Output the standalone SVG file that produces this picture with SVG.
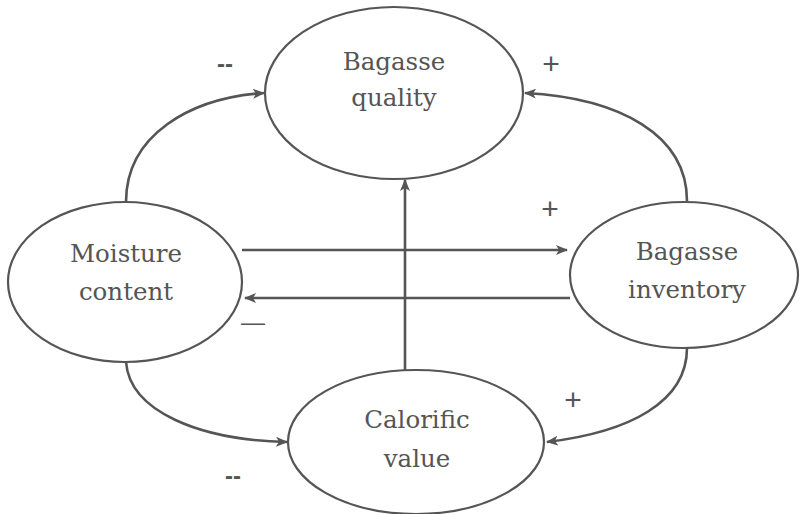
<svg xmlns="http://www.w3.org/2000/svg" width="800" height="514" viewBox="0 0 800 514">
<style>
.node ellipse{fill:#fff;stroke:#555;stroke-width:2.2}
.node text,.lbl{font-family:"DejaVu Serif","Liberation Serif",serif;font-size:24.5px;fill:#555;text-anchor:middle}
.lbl{font-family:"Liberation Sans",sans-serif;font-size:24px}
.plus{font-size:30px}
.conn path{fill:none;stroke:#555;stroke-width:2.6}
</style>
<defs>
<marker id="ah" viewBox="0 0 12 10" refX="11" refY="5" markerWidth="12" markerHeight="10" markerUnits="userSpaceOnUse" orient="auto">
<path d="M0,0 L12,5 L0,10 L3,5 Z" fill="#555"/>
</marker>
</defs>
<rect width="800" height="514" fill="#fff"/>
<g class="conn">
<path d="M126,202 C126,135 190,98 264,93" marker-end="url(#ah)"/>
<path d="M687,201 C687,135 620,98 525,93" marker-end="url(#ah)"/>
<path d="M405,370 L405,180" marker-end="url(#ah)"/>
<path d="M242,250 L567,250" marker-end="url(#ah)"/>
<path d="M570,298 L245,298" marker-end="url(#ah)"/>
<path d="M126,362 C130,412 200,440 287,442" marker-end="url(#ah)"/>
<path d="M687,348 C687,402 630,432 547,442" marker-end="url(#ah)"/>
</g>
<g id="bagasse-quality" class="node">
<ellipse cx="394" cy="93" rx="129" ry="86"/>
<text x="394" y="70">Bagasse</text>
<text x="394" y="106">quality</text>
</g>
<g id="moisture-content" class="node">
<ellipse cx="125" cy="282" rx="117" ry="80"/>
<text x="126" y="262">Moisture</text>
<text x="126" y="300">content</text>
</g>
<g id="bagasse-inventory" class="node">
<ellipse cx="684" cy="275" rx="114" ry="73"/>
<text x="687" y="260">Bagasse</text>
<text x="687" y="298">inventory</text>
</g>
<g id="calorific-value" class="node">
<ellipse cx="416" cy="442" rx="128" ry="72"/>
<text x="417" y="428">Calorific</text>
<text x="417" y="467">value</text>
</g>
<g id="labels">
<text class="lbl" x="225" y="72" font-weight="bold">--</text>
<text class="lbl plus" x="551" y="74">+</text>
<text class="lbl plus" x="550" y="219">+</text>
<text class="lbl" x="253" y="330">—</text>
<text class="lbl" x="233" y="484" font-weight="bold">--</text>
<text class="lbl plus" x="573" y="410">+</text>
</g>
</svg>
